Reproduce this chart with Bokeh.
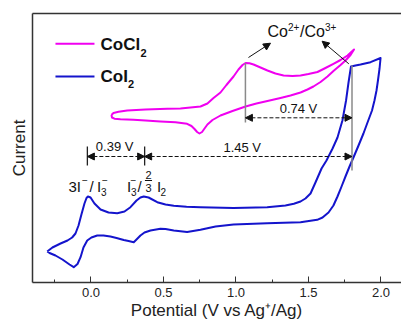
from bokeh.plotting import figure
from bokeh.models import (Range1d, LinearAxis, FixedTicker, SingleIntervalTicker,
                          PrintfTickFormatter, Label, Arrow, NormalHead)
from bokeh.embed import file_html
from bokeh.resources import INLINE

# ---------------- data (potential in V vs Ag+/Ag, current in a.u.) ----------------
coi2_potential = [
    -0.302, -0.266, -0.210, -0.162, -0.130, -0.107, -0.086, -0.066, -0.045, -0.031,
    -0.021, -0.003, 0.024, 0.066, 0.121, 0.181, 0.231, 0.272, 0.314, 0.341,
    0.364, 0.397, 0.457, 0.514, 0.571, 0.659, 0.755, 0.983, 1.215, 1.341,
    1.399, 1.445, 1.479, 1.514, 1.548, 1.590, 1.624, 1.666, 1.700, 1.734,
    1.759, 1.776, 1.793, 1.824, 1.859, 1.928, 1.997,
    1.990, 1.979, 1.969, 1.955, 1.938, 1.907, 1.879, 1.845, 1.810, 1.783,
    1.755, 1.728, 1.700, 1.672, 1.638, 1.597, 1.560, 1.445, 1.215, 0.983,
    0.859, 0.755, 0.663, 0.571, 0.514, 0.479, 0.410, 0.369, 0.341, 0.314,
    0.295, 0.259, 0.226, 0.176, 0.134, 0.086, 0.043, 0.003, -0.026, -0.052,
    -0.072, -0.093, -0.119, -0.148, -0.197, -0.245, -0.286, -0.302]
coi2_current = [
    31, 35, 39, 42, 45, 49, 57, 68, 79, 84.5,
    86, 85, 79, 73, 70, 69.3, 71, 75.3, 82, 85,
    86, 85, 80.3, 78, 76.7, 75.7, 75.3, 74.5, 75.3, 77,
    78.7, 81, 84, 89, 100, 114, 122, 134, 145, 162,
    182, 200, 216, 217, 218, 220.3, 224.5,
    214, 202, 192, 182, 172, 160, 149, 137, 125, 116,
    106, 96, 86, 77, 70, 65, 62.7, 60.3, 59.3, 58,
    56, 52.7, 50.5, 52, 53.5, 53.7, 52, 50, 47, 43,
    40.3, 41.5, 42.5, 44.5, 46, 47, 47, 45, 42, 35,
    25.3, 18.5, 15.3, 18, 23, 27, 29.5, 31]

cocl2_potential = [
    0.141, 0.155, 0.190, 0.250, 0.376, 0.526, 0.617, 0.686, 0.755, 0.803,
    0.845, 0.893, 0.934, 0.983, 1.017, 1.045, 1.066, 1.093, 1.121, 1.169,
    1.217, 1.272, 1.328, 1.390, 1.445, 1.500, 1.562, 1.617, 1.672, 1.721,
    1.769, 1.814,
    1.790, 1.755, 1.721, 1.672, 1.631, 1.583, 1.534, 1.493, 1.445, 1.376,
    1.307, 1.217, 1.141, 1.066, 0.976, 0.893, 0.838, 0.803, 0.783, 0.766,
    0.748, 0.732, 0.714, 0.693, 0.663, 0.583, 0.479, 0.376, 0.293, 0.203,
    0.162, 0.145, 0.141]
cocl2_current = [
    167.5, 169.5, 170.7, 172, 173, 173.7, 174, 175, 176, 179,
    184.5, 190, 197.5, 206, 213, 217.5, 219.5, 219.2, 218, 215,
    212, 209, 207, 206.5, 207, 208.5, 210.5, 214.5, 218.7, 222.5,
    227, 233,
    227.5, 222, 217.5, 211.5, 206, 200.5, 196, 193, 190, 187,
    184.5, 181.5, 179, 176, 171.5, 167, 162.5, 158, 154, 150.5,
    149, 150.5, 153.5, 156.5, 158.7, 160.2, 161, 162, 162.7, 163.3,
    163.8, 165, 167.5]

series_labels = ["CoCl", "CoI"]
x_tick_interval = 0.5

# peak potentials used for the annotations (V)
peak_i_ox1 = -0.025
peak_i_ox2 = 0.37
peak_co_ox = 1.065
onset_co_i2 = 1.80
gap_labels = ["0.39 V", "1.45 V", "0.74 V"]

FONT = "Liberation Sans"
MAGENTA = "#f000f0"
BLUE = "#1414cc"
AXIS = "#333333"
INK = "#111111"

p = figure(width=401, height=324, output_backend="svg", toolbar_location=None,
           x_range=Range1d(-0.4034, 2.1414), y_range=Range1d(0, 269),
           min_border_left=32, min_border_right=0, min_border_top=13, min_border_bottom=42,
           background_fill_color="white", border_fill_color="white")
p.outline_line_color = None
p.grid.visible = False

# bottom axis
xa = p.xaxis[0]
xa.ticker = SingleIntervalTicker(interval=x_tick_interval, num_minor_ticks=2)
xa.formatter = PrintfTickFormatter(format="%.1f")
xa.major_tick_in = 6
xa.major_tick_out = 0
xa.minor_tick_in = 3
xa.minor_tick_out = 0
xa.axis_line_color = AXIS
xa.axis_line_width = 1.5
xa.major_tick_line_color = AXIS
xa.minor_tick_line_color = AXIS
xa.major_label_text_font = FONT
xa.major_label_text_font_size = "13px"
xa.major_label_text_color = "#222222"
xa.major_label_standoff = 5
xa.axis_label = "Potential (V vs Ag\u207a/Ag)"
xa.axis_label_text_font = FONT
xa.axis_label_text_font_size = "17px"
xa.axis_label_text_font_style = "normal"
xa.axis_label_text_color = "#222222"
xa.axis_label_standoff = 1

# left axis
ya = p.yaxis[0]
ya.ticker = FixedTicker(ticks=[])
ya.major_tick_out = 0
ya.major_tick_in = 0
ya.minor_tick_out = 0
ya.minor_tick_in = 0
ya.major_label_standoff = 0
ya.axis_line_color = AXIS
ya.axis_line_width = 1.5
ya.axis_label = "Current"
ya.axis_label_text_font = FONT
ya.axis_label_text_font_size = "17px"
ya.axis_label_text_font_style = "normal"
ya.axis_label_text_color = "#222222"
ya.axis_label_standoff = 4

# top border
top = LinearAxis(ticker=FixedTicker(ticks=[]), major_tick_out=0, major_tick_in=0,
                 minor_tick_out=0, minor_tick_in=0, major_label_standoff=0,
                 axis_line_color=AXIS, axis_line_width=1.5)
p.add_layout(top, "above")

# curves
p.line(cocl2_potential, cocl2_current, line_color=MAGENTA, line_width=2, line_join="round")
p.line(coi2_potential, coi2_current, line_color=BLUE, line_width=2, line_join="round")


def txt(x, y, text, size, dx=0, dy=0, align="left", style="normal"):
    # y is the wanted baseline; labels are anchored a little higher to sit on it
    p.add_layout(Label(x=x, y=y, x_offset=dx, y_offset=dy + 0.36 * size, text=text,
                       text_font=FONT, text_font_size=f"{size}px",
                       text_font_style=style, text_align=align,
                       text_baseline="alphabetic", text_color=INK))


# legend (drawn by hand so that the subscripts can be placed)
p.segment(x0=[-0.245, -0.245], y0=[238.7, 206], x1=[0.024, 0.024], y1=[238.7, 206],
          line_color=[MAGENTA, BLUE], line_width=2)
txt(0.0655, 232, series_labels[0], 17, style="bold")
txt(0.0655, 232, "2", 11, dx=40, dy=-6, style="bold")
txt(0.0655, 200.3, series_labels[1], 17, style="bold")
txt(0.0655, 200.3, "2", 11, dx=27.5, dy=-6, style="bold")

# guide lines
p.segment(x0=[peak_i_ox1, peak_i_ox2], y0=[117, 117], x1=[peak_i_ox1, peak_i_ox2],
          y1=[136, 136], line_color="#222222", line_width=1.3)
p.segment(x0=[peak_co_ox, onset_co_i2], y0=[160, 112], x1=[peak_co_ox, onset_co_i2],
          y1=[219.5, 217], line_color="#8a8a8a", line_width=1.5)


def head():
    return NormalHead(size=7, fill_color=INK, line_color=INK, line_width=1)


for xs, xe, yy in [(peak_i_ox1, peak_i_ox2, 126), (peak_i_ox2, onset_co_i2, 126),
                   (peak_co_ox, onset_co_i2, 164.7)]:
    p.add_layout(Arrow(start=head(), end=head(), x_start=xs, y_start=yy, x_end=xe, y_end=yy,
                       line_dash="4 2", line_width=1, line_color=INK))

# Co arrows
p.add_layout(Arrow(end=head(), x_start=1.086, y_start=225, x_end=1.238, y_end=239.3,
                   line_width=1, line_color=INK))
p.add_layout(Arrow(end=head(), x_start=1.778, y_start=218.7, x_end=1.594, y_end=241.3,
                   line_width=1, line_color=INK))

# gap labels
txt(0.163, 131.3, gap_labels[0], 13, align="center")
txt(1.043, 130.8, gap_labels[1], 13, align="center")
txt(1.431, 169, gap_labels[2], 13, align="center")

# Co2+/Co3+
cx, cy = 1.217, 245
txt(cx, cy, "Co", 16)
txt(cx, cy, "2+", 10, dx=20.5, dy=7)
txt(cx, cy, "/", 16, dx=32.5)
txt(cx, cy, "Co", 16, dx=37)
txt(cx, cy, "3+", 10, dx=57.5, dy=7)

# 3I-/I3-
ax, ay = -0.155, 91
txt(ax, ay, "3I", 15)
txt(ax, ay, "\u2212", 10, dx=13.5, dy=8)
txt(ax, ay, "/", 15, dx=21)
txt(ax, ay, "I", 15, dx=28.5)
txt(ax, ay, "3", 10, dx=32.5, dy=-4)
txt(ax, ay, "\u2212", 10, dx=33.5, dy=8)

# I3-/(2/3)I2
bx, by = 0.248, 91
txt(bx, by, "I", 15)
txt(bx, by, "3", 10, dx=4, dy=-4)
txt(bx, by, "\u2212", 10, dx=3.5, dy=8)
txt(bx, by, "/", 15, dx=10.5)
txt(bx, by, "2", 11, dx=21.5, dy=12.7, align="center")
txt(bx, by, "3", 11, dx=21.5, dy=-0.5, align="center")
p.segment(x0=[0.372], y0=[102], x1=[0.421], y1=[102], line_color=INK, line_width=1)
txt(bx, by, "I", 15, dx=30)
txt(bx, by, "2", 10, dx=33.5, dy=-4)

open("out.html", "w").write(file_html(p, INLINE))
